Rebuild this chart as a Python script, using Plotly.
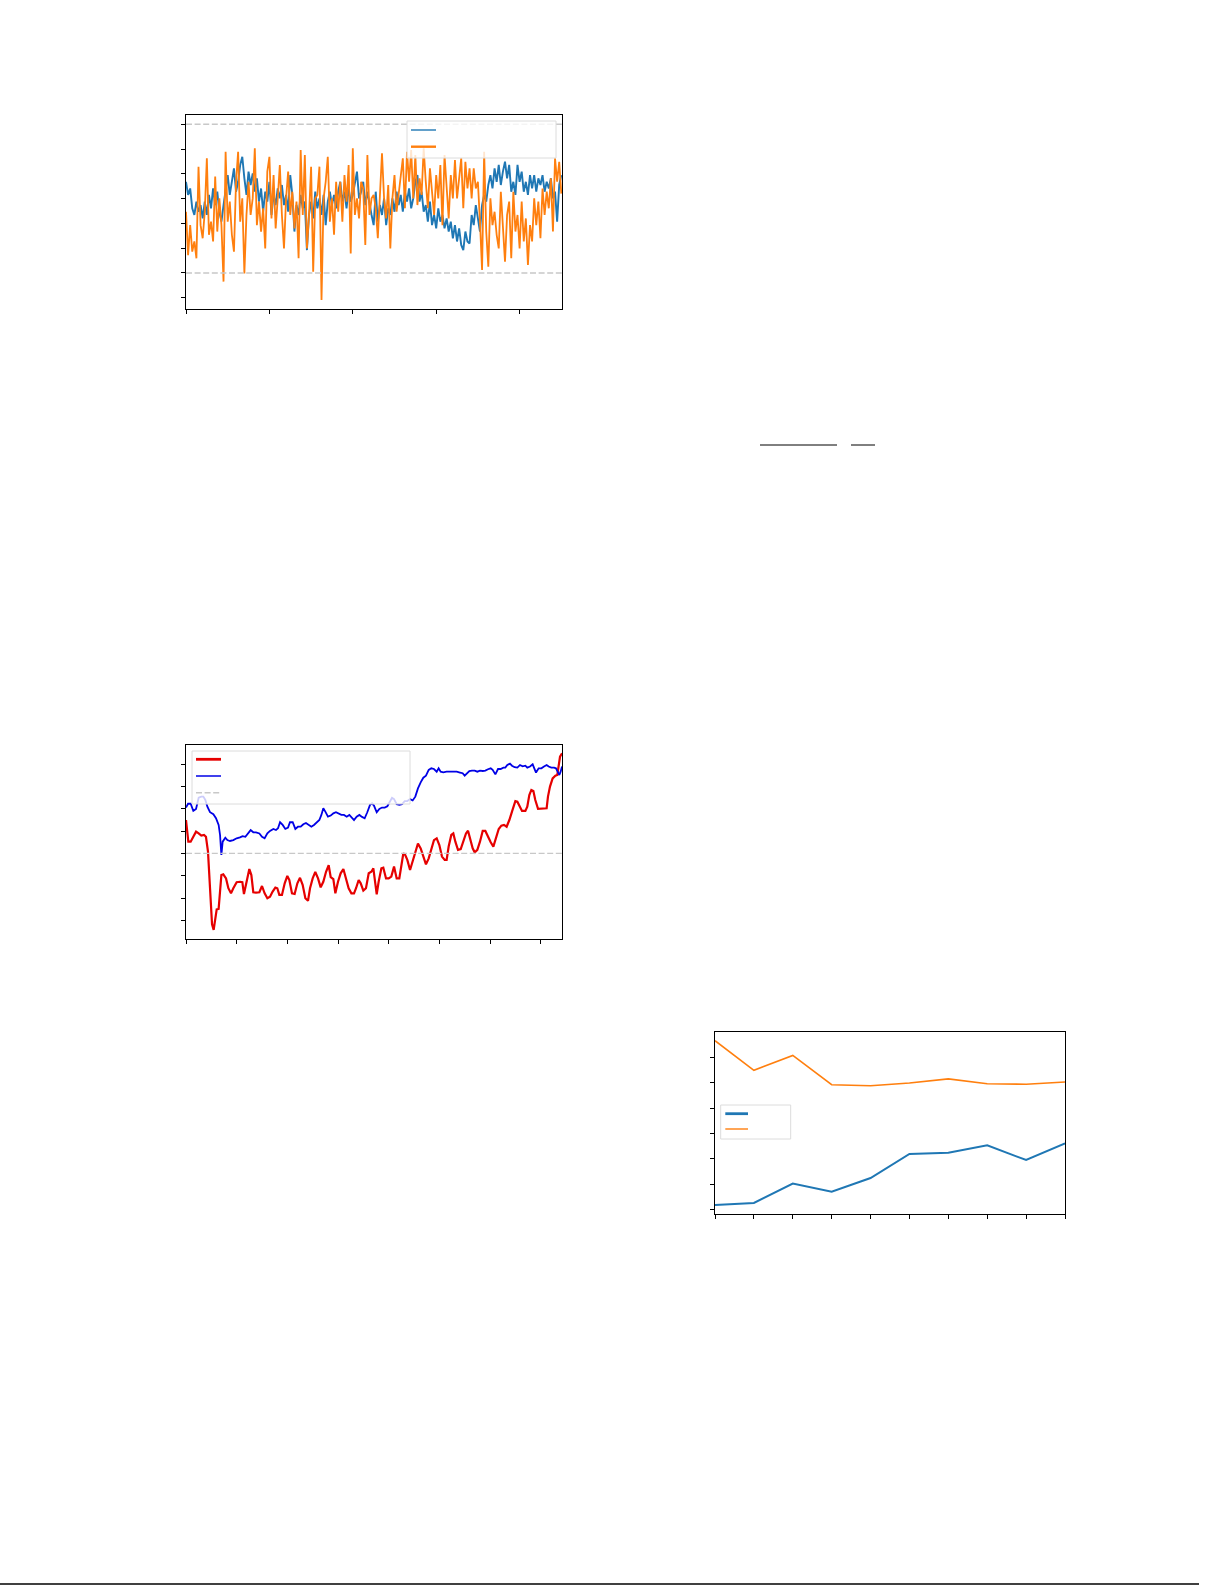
import plotly.graph_objects as go

W, H = 1225, 1585

# ---------------- Chart 1 (top-left): two noisy series, index 0..900 step 5 ----------------
c1_step = 5
c1_blue = [
    0.68, 0.15, 0.41, -0.39, -0.66, -0.12, -0.53, -0.26, -0.80, -0.12, -0.66, 0.15, -0.39, 0.41, -0.26, 0.28,
    -0.53, -0.93, -0.26, 0.28, 0.95, 0.15, 0.68, 1.22, 0.28, 0.68, 1.36, 1.69, 0.82, 0.15, 1.09, 0.55,
    1.02, 0.28, 0.82, -0.12, 0.41, -0.53, 0.28, -0.12, 0.68, -0.66, 0.15, -0.26, 0.41, 0.01,
    0.55, -0.26, 0.15, -0.53, 0.95, 0.15, -1.33, -0.26, -0.66, 0.15, -0.39, -0.12, -2.08, -0.66, -0.12,
    -0.80, 0.28, -0.39, 0.01, -0.66, 0.15, -1.07, -0.12, 0.28, -0.26, 0.15, -0.39, 0.28, 0.68, -0.12,
    0.28, -0.39, 0.41, -0.12, 0.15, 0.68, 1.09, 0.01, 0.28, 0.68, -0.26, 0.28, -0.12, -0.66, -1.07,
    0.28, -0.93, -0.26, -0.66, 0.01, -1.07, -0.39, -0.66, 0.01, -0.53, 0.28, -0.26, 0.15, -0.53, 0.28,
    -0.12, 0.41, -0.39, 0.01, 0.68, 0.95, -0.12, 0.28, -0.53, -0.26, -0.93, -0.12, -1.07, -0.66, -1.20,
    -0.39, -0.93, -0.66, -1.20, -0.80, -1.33, -0.93, -1.60, -1.07, -1.73, -1.20, -1.87, -2.08, -1.33, -1.73,
    -1.81, -0.66, -1.07, -0.26, -0.80, -1.33, -0.26, 0.15, -0.12, 0.55, 0.95, 0.41, 1.22, 0.68, 1.36,
    0.55, 1.09, 1.49, 0.82, 1.36, 0.28, 0.68, 0.15, 1.36, 0.68, 1.09, 0.28, 0.68, 0.15, 0.95,
    0.41, 0.95, 0.28, 0.82, 0.55, 0.95, 0.28, 0.68, 0.41, 0.82, 0.01, 0.28, -0.93, 0.55, 0.95,
]
c1_orange = [
    -0.53, -2.28, -1.07, -2.14, -1.73, -2.41, 1.29, -1.07, -1.60, -0.53, 1.63, -1.46, -0.93, -1.73, 0.89, -1.33,
    0.01, -1.07, -3.35, 1.89, -0.93, -0.12, -1.46, -2.14, 0.68, 1.89, -0.93, 0.01, -3.02, -0.66, 0.68, -0.66,
    0.01, 2.03, -1.07, -0.12, -1.33, -0.39, -2.01, 1.09, 1.69, -0.80, 0.95, -1.20, 0.01, 1.36,
    -0.66, -2.01, 0.01, 1.09, -0.66, 0.28, -1.20, -0.12, -2.41, 1.96, -0.66, 1.76, -2.01, -0.66, 1.29,
    -2.95, 0.01, 0.15, 1.29, -4.09, 0.01, 0.68, 1.69, -0.93, 0.01, -1.46, 0.68, -0.53, 0.68, -0.93,
    0.95, -0.12, 1.36, -2.21, 2.03, -0.66, 0.01, -0.80, 0.68, 0.41, -1.87, 1.76, -0.66, 0.01, 0.15,
    -0.39, -1.60, 0.15, 1.83, 0.01, -0.80, 0.55, -2.01, 0.01, 0.95, -0.53, 0.15, 0.82, 1.63, -0.39,
    1.89, 0.68, 1.96, 0.01, 1.76, -0.26, 0.82, 0.15, 2.03, 0.68, -0.39, 1.22, 0.41, -0.66, 0.95,
    0.01, 1.36, -1.07, 1.76, 0.41, -0.80, 0.95, 0.01, 1.56, 0.01, 0.82, 1.63, -0.39, 1.49, 0.41,
    1.22, 0.01, 1.22, 0.41, 0.68, -0.93, -2.88, 1.89, -1.33, -2.75, 0.01, -1.07, -0.53, -1.46, -2.01,
    0.28, -0.93, -2.55, -0.66, -0.12, -2.41, 0.28, -1.33, -0.66, -2.01, -0.12, -1.73, -0.80, -2.68, -1.07,
    -1.73, 0.01, -1.07, -0.12, -1.60, 0.41, -0.66, 0.28, -0.39, 0.82, -1.33, 1.63, 0.68, 1.49, 0.20,
]
c1_x_blue = [i * c1_step for i in range(len(c1_blue))]
c1_x_orange = [i * c1_step for i in range(len(c1_orange))]
c1_bounds = [-3.0, 3.0]
c1_xticks = [0, 200, 400, 600, 800]
c1_yticks = [-4, -3, -2, -1, 0, 1, 2, 3]

# ---------------- Chart 2 (middle-left): red (thick) and blue (thin) ----------------
c2_red_x = [0, 2.3, 4.6, 7.2, 9.9, 12.5, 15.1, 17.8, 19.7, 21.7, 23.0, 24.3, 25.7, 27.3, 28.9, 30.3, 32.2,
            33.6, 34.9, 36.8, 39.5, 41.8, 44.4, 46.7, 50.0, 53.3, 55.6, 57.2, 59.9, 62.5, 64.5, 66.4, 69.1,
            72.4, 75.0, 77.6, 80.3, 82.9, 85.5, 88.2, 90.1, 92.1, 94.7, 97.4, 100.0, 102.0, 104.6, 107.2,
            109.9, 112.5, 115.1, 117.8, 120.4, 122.4, 125.0, 127.6, 130.3, 132.9, 135.5, 138.2, 140.8,
            142.8, 145.4, 147.4, 150.0, 152.6, 155.3, 157.9, 160.5, 163.2, 165.8, 167.8, 170.4, 172.4,
            175.0, 177.6, 180.3, 182.9, 184.9, 186.8, 188.2, 190.1, 192.8, 194.7, 197.4, 200.0, 202.6,
            205.3, 207.9, 210.5, 212.5, 214.5, 216.4, 218.4, 221.1, 223.7, 226.3, 228.9, 231.6, 234.2,
            236.8, 239.5, 242.1, 244.7, 247.4, 250.0, 252.6, 255.3, 257.2, 259.2, 261.8, 263.8, 265.8,
            268.4, 271.1, 273.7, 276.3, 278.3, 280.3, 282.9, 284.9, 287.5, 290.1, 292.8, 295.4, 298.0,
            300.7, 303.3, 305.9, 308.6, 311.2, 313.8, 316.4, 319.1, 321.7, 325.0, 327.0, 329.6, 331.6,
            334.9, 336.8, 338.8, 340.8, 342.8, 344.7, 347.4, 350.0, 353.3, 355.9, 357.2, 359.2, 361.8,
            364.5, 366.4, 367.8, 369.1, 371.1]
c2_red = [4.50, 3.53, 3.53, 3.75, 3.98, 3.90, 3.80, 3.83, 3.75, 3.08, 2.03, 0.84, -0.18, -0.43, 0.09, 0.49,
          0.51, 1.29, 2.03, 2.06, 1.88, 1.44, 1.21, 1.44, 1.71, 1.73, 1.71, 1.18, 1.73, 2.30, 2.03, 1.26,
          1.24, 1.26, 1.54, 1.21, 0.99, 1.06, 1.29, 1.47, 1.44, 1.14, 1.14, 1.66, 1.99, 1.81, 1.21, 1.18,
          1.66, 1.91, 1.59, 0.99, 0.88, 1.44, 1.88, 2.17, 1.88, 1.48, 1.73, 2.18, 2.47, 1.94, 1.85, 1.21,
          1.73, 2.11, 2.30, 1.88, 1.44, 1.21, 1.21, 1.44, 1.81, 1.66, 1.33, 1.44, 2.11, 2.18, 2.33, 1.66,
          1.17, 1.73, 2.33, 2.36, 1.88, 1.88, 1.96, 2.41, 1.88, 1.88, 2.56, 3.01, 2.93, 2.71, 2.26, 2.63,
          3.01, 3.45, 3.23, 2.86, 2.51, 2.78, 3.23, 3.60, 3.68, 3.38, 2.86, 2.71, 2.71, 3.31, 3.83, 3.90,
          3.53, 3.16, 3.20, 3.60, 3.90, 4.02, 3.68, 3.23, 3.05, 3.16, 3.53, 4.01, 4.01, 3.75, 3.50, 3.31,
          3.68, 4.10, 4.25, 4.28, 4.20, 4.50, 4.88, 5.35, 5.32, 5.10, 4.91, 4.91, 5.10, 5.62, 5.85, 5.80,
          5.40, 5.00, 5.00, 5.00, 5.03, 5.55, 6.00, 6.37, 6.49, 6.52, 6.97, 7.34, 7.49]
c2_blue_x = [0, 2.0, 4.6, 7.2, 9.9, 12.5, 15.1, 17.1, 19.1, 21.1, 23.7, 27.0, 29.6, 32.2, 33.6, 34.9, 36.2,
             38.8, 40.8, 43.4, 46.7, 50.0, 53.3, 55.9, 58.6, 61.2, 63.8, 66.4, 69.1, 72.4, 75.0, 77.6,
             80.3, 82.9, 86.2, 88.8, 90.8, 92.8, 95.4, 98.0, 100.7, 102.6, 105.3, 107.9, 110.5, 113.2,
             115.8, 118.4, 121.1, 123.7, 126.3, 128.9, 131.6, 133.6, 135.5, 137.5, 140.1, 142.8, 145.4,
             148.0, 150.7, 153.3, 155.9, 158.6, 161.2, 163.8, 165.8, 168.4, 171.1, 173.7, 176.3, 178.9,
             181.6, 183.6, 185.5, 188.2, 190.8, 193.4, 196.1, 198.7, 201.3, 203.3, 205.3, 207.9, 210.5,
             213.2, 215.8, 218.4, 221.1, 223.7, 226.3, 228.9, 231.6, 234.2, 236.8, 239.5, 242.1, 244.7,
             247.4, 249.3, 251.3, 253.9, 257.2, 260.5, 263.8, 267.1, 270.4, 273.0, 275.0, 277.0, 279.6,
             282.2, 284.9, 287.5, 290.1, 292.8, 295.4, 298.0, 300.7, 302.6, 305.3, 307.9, 310.5, 313.2,
             315.1, 317.1, 319.7, 321.7, 324.3, 327.0, 329.6, 332.2, 334.9, 336.8, 339.5, 342.1, 344.1,
             345.4, 348.0, 350.7, 353.3, 355.9, 357.9, 360.5, 363.2, 365.1, 367.1, 368.4, 369.7, 371.1]
c2_blue = [5.06, 5.23, 5.23, 4.91, 5.00, 5.50, 5.55, 5.55, 5.40, 5.10, 4.85, 4.76, 4.58, 4.28, 3.83, 2.93,
           3.53, 3.71, 3.60, 3.56, 3.60, 3.68, 3.72, 3.78, 3.75, 3.90, 4.05, 3.95, 3.95, 3.90, 3.75, 3.68,
           3.90, 4.01, 4.10, 4.05, 4.13, 4.40, 4.28, 4.10, 4.16, 4.40, 4.40, 4.10, 4.20, 4.20, 4.31, 4.37,
           4.28, 4.20, 4.28, 4.40, 4.50, 4.73, 5.03, 4.88, 4.65, 4.70, 4.80, 4.85, 4.80, 4.73, 4.73, 4.65,
           4.73, 4.61, 4.50, 4.65, 4.73, 4.64, 4.58, 4.85, 5.18, 5.25, 5.15, 4.85, 5.00, 5.06, 5.06, 5.12,
           5.32, 5.50, 5.44, 5.21, 5.18, 5.21, 5.35, 5.35, 5.44, 5.38, 5.55, 5.92, 6.19, 6.40, 6.49, 6.75,
           6.82, 6.79, 6.67, 6.82, 6.67, 6.64, 6.67, 6.67, 6.67, 6.67, 6.63, 6.60, 6.49, 6.60, 6.70, 6.72,
           6.72, 6.67, 6.72, 6.70, 6.72, 6.78, 6.82, 6.75, 6.55, 6.79, 6.79, 6.85, 6.85, 6.97, 7.03, 6.94,
           6.87, 6.85, 6.97, 6.91, 6.94, 6.85, 6.90, 7.00, 6.82, 6.63, 6.82, 6.82, 6.90, 6.97, 6.90, 6.85,
           6.85, 6.82, 6.64, 6.52, 6.67, 6.90]
c2_level = 3.0
c2_xticks = [0, 50, 100, 150, 200, 250, 300, 350]
c2_yticks = [0, 1, 2, 3, 4, 5, 6, 7]

# ---------------- Chart 3 (lower-right): two series over 10 steps ----------------
c3_x = [0, 1, 2, 3, 4, 5, 6, 7, 8, 9]
c3_blue = [0.17, 0.25, 1.02, 0.70, 1.24, 2.19, 2.24, 2.53, 1.95, 2.61]
c3_orange = [6.67, 5.50, 6.09, 4.93, 4.89, 5.00, 5.16, 4.97, 4.95, 5.04]
c3_yticks = [0, 1, 2, 3, 4, 5, 6]

# ---------------- styles ----------------
TAB_BLUE, TAB_ORANGE = "#1f77b4", "#ff7f0e"
RED, BLUE = "#e60000", "#0000e6"
DASH_GRAY = "#c8c8c8"


def px(x):
    return x / W


def py(y):
    return 1 - y / H


fig = go.Figure()

fig.add_trace(go.Scatter(x=c1_x_blue, y=c1_blue, mode="lines", line=dict(color=TAB_BLUE, width=1.9),
                         xaxis="x", yaxis="y", showlegend=False))
fig.add_trace(go.Scatter(x=c1_x_orange, y=c1_orange, mode="lines", line=dict(color=TAB_ORANGE, width=1.8),
                         xaxis="x", yaxis="y", showlegend=False))

fig.add_trace(go.Scatter(x=c2_red_x, y=c2_red, mode="lines", line=dict(color=RED, width=2.2),
                         xaxis="x2", yaxis="y2", showlegend=False))
fig.add_trace(go.Scatter(x=c2_blue_x, y=c2_blue, mode="lines", line=dict(color=BLUE, width=1.8),
                         xaxis="x2", yaxis="y2", showlegend=False))

fig.add_trace(go.Scatter(x=c3_x, y=c3_blue, mode="lines", line=dict(color=TAB_BLUE, width=2.0),
                         xaxis="x3", yaxis="y3", showlegend=False))
fig.add_trace(go.Scatter(x=c3_x, y=c3_orange, mode="lines", line=dict(color=TAB_ORANGE, width=1.6),
                         xaxis="x3", yaxis="y3", showlegend=False))

axis_common = dict(showline=True, mirror=True, linecolor="black", linewidth=1, ticks="outside",
                   ticklen=4, tickwidth=1, tickcolor="black", showticklabels=False, showgrid=False,
                   zeroline=False, fixedrange=True)

fig.update_layout(
    width=W, height=H, margin=dict(l=0, r=0, t=0, b=0),
    paper_bgcolor="white", plot_bgcolor="white", showlegend=False,
    xaxis=dict(domain=[px(186), px(562)], range=[0, 901.7], tickvals=c1_xticks, anchor="y", **axis_common),
    yaxis=dict(domain=[py(309), py(115)], range=[-4.456, 3.376], tickvals=c1_yticks, anchor="x", **axis_common),
    xaxis2=dict(domain=[px(186), px(562)], range=[0, 371.05], tickvals=c2_xticks, anchor="y2", **axis_common),
    yaxis2=dict(domain=[py(939), py(745)], range=[-0.838, 7.867], tickvals=c2_yticks, anchor="x2", **axis_common),
    xaxis3=dict(domain=[px(715), px(1065)], range=[0, 9], tickvals=c3_x, anchor="y3", **axis_common),
    yaxis3=dict(domain=[py(1214), py(1032)], range=[-0.185, 7.016], tickvals=c3_yticks, anchor="x3", **axis_common),
)

shapes = []
# reference bounds on chart 1
for b in c1_bounds:
    shapes.append(dict(type="line", xref="x domain", yref="y", x0=0, x1=1, y0=b, y1=b,
                       line=dict(color=DASH_GRAY, width=1.5, dash="6px,2.6px"), layer="above"))
# reference level on chart 2
shapes.append(dict(type="line", xref="x2 domain", yref="y2", x0=0, x1=1, y0=c2_level, y1=c2_level,
                   line=dict(color=DASH_GRAY, width=1.3, dash="6px,2.6px"), layer="above"))


def legend_box(x0, y0, x1, y1):
    shapes.append(dict(type="rect", xref="paper", yref="paper", x0=px(x0), x1=px(x1), y0=py(y1), y1=py(y0),
                       fillcolor="rgba(255,255,255,0.8)", line=dict(color="#dcdcdc", width=1), layer="above"))


def legend_line(x0, x1, y, color, width, dash="solid"):
    shapes.append(dict(type="line", xref="paper", yref="paper", x0=px(x0), x1=px(x1), y0=py(y), y1=py(y),
                       line=dict(color=color, width=width, dash=dash), layer="above"))


# chart 1 legend
legend_box(407, 121, 556, 158)
legend_line(411, 436, 130, TAB_BLUE, 1.4)
legend_line(411, 436, 146.7, TAB_ORANGE, 2.4)
# chart 2 legend
legend_box(192, 751, 410, 804)
legend_line(196, 221, 759.3, RED, 2.8)
legend_line(196, 221, 776, BLUE, 1.5)
legend_line(196, 221, 792.7, DASH_GRAY, 1.4, "6px,2.6px")
# chart 3 legend
legend_box(720.7, 1105, 790.7, 1139)
legend_line(725.3, 748, 1113.7, TAB_BLUE, 2.8)
legend_line(725.3, 748, 1129, TAB_ORANGE, 1.4)

# fraction bars of a formula in the page text
shapes.append(dict(type="line", xref="paper", yref="paper", x0=px(760), x1=px(837), y0=py(445), y1=py(445),
                   line=dict(color="black", width=1)))
shapes.append(dict(type="line", xref="paper", yref="paper", x0=px(851), x1=px(875), y0=py(445), y1=py(445),
                   line=dict(color="black", width=1)))
# page bottom rule
shapes.append(dict(type="line", xref="paper", yref="paper", x0=0, x1=px(1199), y0=py(1584), y1=py(1584),
                   line=dict(color="black", width=1.5)))

fig.update_layout(shapes=shapes)

fig.write_html("out.html", config={"displayModeBar": False},
               post_script="document.body.style.margin='0px';")
